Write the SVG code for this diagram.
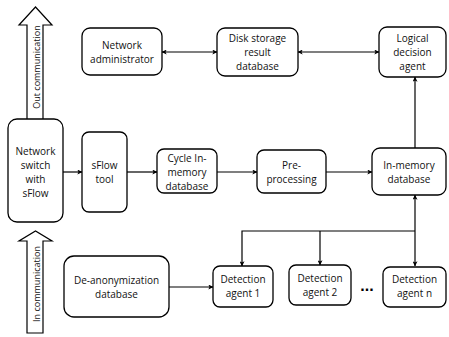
<svg xmlns="http://www.w3.org/2000/svg" width="449" height="337" viewBox="0 0 449 337">
<style>
.box{fill:#fff;stroke:#000;stroke-width:1.3}
.t{font-family:"Open Sans","Liberation Sans",sans-serif;font-size:10px;fill:#111;text-anchor:middle}
.r{font-family:"Open Sans","Liberation Sans",sans-serif;font-size:9px;fill:#111;text-anchor:middle}
.c{fill:none;stroke:#000;stroke-width:1.2}
.bg{fill:#fff;stroke:#000;stroke-width:1.2}
</style>
<defs>
<marker id="ah" viewBox="0 0 8 8" refX="7.5" refY="4" markerWidth="5" markerHeight="5" orient="auto-start-reverse" markerUnits="userSpaceOnUse">
<path d="M0,0 L8,4 L0,8 L2,4 z" fill="#000"/>
</marker>
</defs>
<rect width="449" height="337" fill="#fff"/>
<g id="out-arrow">
<path class="bg" d="M27,119 L27,25 L19,25 L35.5,7 L52,25 L43,25 L43,119"/>
<text class="r" transform="translate(39.5,67) rotate(-90)">Out communication</text>
</g>
<g id="in-arrow">
<path class="bg" d="M27,333 L27,241 L19,241 L35.5,231 L52,241 L43,241 L43,333 Z"/>
<text class="r" transform="translate(39.5,284) rotate(-90)">In communication</text>
</g>
<g id="connectors">
<line class="c" x1="63" y1="172" x2="82" y2="172" marker-end="url(#ah)"/>
<line class="c" x1="127" y1="172" x2="157" y2="172" marker-end="url(#ah)"/>
<line class="c" x1="217" y1="172" x2="257" y2="172" marker-end="url(#ah)"/>
<line class="c" x1="326" y1="172" x2="372" y2="172" marker-end="url(#ah)"/>
<line class="c" x1="415" y1="148" x2="415" y2="77" marker-end="url(#ah)"/>
<line class="c" x1="162" y1="52" x2="217" y2="52" marker-start="url(#ah)" marker-end="url(#ah)"/>
<line class="c" x1="298" y1="52" x2="379" y2="52" marker-start="url(#ah)" marker-end="url(#ah)"/>
<line class="c" x1="415" y1="195" x2="415" y2="266" marker-start="url(#ah)" marker-end="url(#ah)"/>
<polyline class="c" points="415,231 242,231 242,266" marker-end="url(#ah)"/>
<line class="c" x1="320" y1="231" x2="320" y2="265" marker-end="url(#ah)"/>
<line class="c" x1="169" y1="287" x2="213" y2="287" marker-end="url(#ah)"/>
</g>
<g id="switch">
<rect class="box" x="8" y="119" width="55" height="103" rx="9"/>
<text class="t" x="35.5" y="155">Network</text>
<text class="t" x="35.5" y="169">switch</text>
<text class="t" x="35.5" y="183">with</text>
<text class="t" x="35.5" y="197">sFlow</text>
</g>
<g id="sflow-tool">
<rect class="box" x="82" y="132" width="45" height="80" rx="7"/>
<text class="t" x="104.5" y="169">sFlow</text>
<text class="t" x="104.5" y="183">tool</text>
</g>
<g id="cycle">
<rect class="box" x="157" y="149" width="60" height="44" rx="7"/>
<text class="t" x="187" y="162">Cycle In-</text>
<text class="t" x="187" y="176">memory</text>
<text class="t" x="187" y="190">database</text>
</g>
<g id="preproc">
<rect class="box" x="257" y="150" width="69" height="43" rx="7"/>
<text class="t" x="291.5" y="169">Pre-</text>
<text class="t" x="291.5" y="183">processing</text>
</g>
<g id="inmem">
<rect class="box" x="372" y="148" width="74" height="47" rx="8"/>
<text class="t" x="409" y="169">In-memory</text>
<text class="t" x="409" y="183">database</text>
</g>
<g id="admin">
<rect class="box" x="82" y="28" width="80" height="47" rx="8"/>
<text class="t" x="122" y="49">Network</text>
<text class="t" x="122" y="63">administrator</text>
</g>
<g id="disk">
<rect class="box" x="217" y="28" width="81" height="48" rx="8"/>
<text class="t" x="257.5" y="42">Disk storage</text>
<text class="t" x="257.5" y="56">result</text>
<text class="t" x="257.5" y="70">database</text>
</g>
<g id="logical">
<rect class="box" x="379" y="27" width="67" height="50" rx="8"/>
<text class="t" x="412.5" y="42">Logical</text>
<text class="t" x="412.5" y="56">decision</text>
<text class="t" x="412.5" y="70">agent</text>
</g>
<g id="deanon">
<rect class="box" x="64" y="256" width="105" height="61" rx="10"/>
<text class="t" x="116.5" y="284">De-anonymization</text>
<text class="t" x="116.5" y="298">database</text>
</g>
<g id="det1">
<rect class="box" x="213" y="266" width="60" height="41" rx="7"/>
<text class="t" x="243" y="283">Detection</text>
<text class="t" x="243" y="297">agent 1</text>
</g>
<g id="det2">
<rect class="box" x="289" y="265" width="62" height="40" rx="7"/>
<text class="t" x="320" y="282">Detection</text>
<text class="t" x="320" y="296">agent 2</text>
</g>
<g id="detn">
<rect class="box" x="383" y="267" width="63" height="40" rx="7"/>
<text class="t" x="414.5" y="283">Detection</text>
<text class="t" x="414.5" y="297">agent n</text>
</g>
<g id="ellipsis">
<text x="367" y="291" style="font-family:'Liberation Sans',sans-serif;font-size:16px;font-weight:bold;text-anchor:middle;fill:#000">...</text>
</g>
</svg>
